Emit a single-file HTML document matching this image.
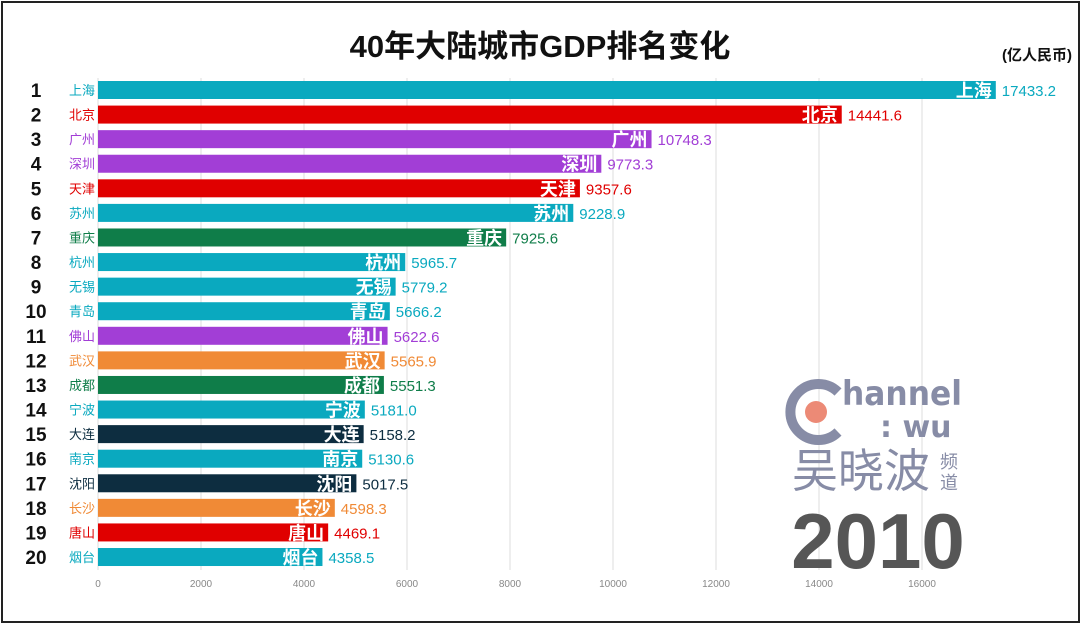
<!DOCTYPE html>
<html><head><meta charset="utf-8"><style>
body{margin:0;width:1080px;height:624px;overflow:hidden;background:#fff;font-family:"Liberation Sans","Noto Sans CJK SC",sans-serif}
#frame{position:absolute;left:1px;top:1px;width:1075px;height:618px;border:2px solid #222;box-sizing:content-box}
</style></head><body>
<div id="frame"></div>
<svg id="c" width="1080" height="624" style="position:absolute;left:0;top:0">
<text x="540" y="57" text-anchor="middle" font-size="31" font-weight="bold" fill="#111" font-family="Liberation Sans,Noto Sans CJK SC,sans-serif">40年大陆城市GDP排名变化</text>
<text x="1072" y="60" text-anchor="end" font-size="15" font-weight="bold" fill="#111" font-family="Liberation Sans,Noto Sans CJK SC,sans-serif">(亿人民币)</text>
<g id="grid"></g><g id="bars"></g>
<g>
<path d="M838 392 A28 28 0 1 0 838 432" fill="none" stroke="#878ca6" stroke-width="10"/>
<circle cx="816" cy="412" r="11" fill="#ec8a76"/>
<text x="842" y="405" font-size="34" font-weight="bold" fill="#878ca6" font-family="DejaVu Sans,sans-serif" textLength="120" lengthAdjust="spacingAndGlyphs">hannel</text>
<text x="880" y="437" font-size="30" font-weight="bold" fill="#878ca6" font-family="DejaVu Sans,sans-serif">: wu</text>
<text x="792" y="487" font-size="46" fill="#878ca6" font-family="Noto Sans CJK SC,sans-serif">吴晓波</text>
<text x="940" y="468" font-size="18" fill="#878ca6" font-family="Noto Sans CJK SC,sans-serif">频</text>
<text x="940" y="489" font-size="18" fill="#878ca6" font-family="Noto Sans CJK SC,sans-serif">道</text>
</g>
<text x="878" y="568" text-anchor="middle" font-size="78" font-weight="bold" fill="#565656">2010</text>
</svg>
<script>
const cities=["上海","北京","广州","深圳","天津","苏州","重庆","杭州","无锡","青岛","佛山","武汉","成都","宁波","大连","南京","沈阳","长沙","唐山","烟台"];
const values=[17433.2,14441.6,10748.3,9773.3,9357.6,9228.9,7925.6,5965.7,5779.2,5666.2,5622.6,5565.9,5551.3,5181.0,5158.2,5130.6,5017.5,4598.3,4469.1,4358.5];
const colorKeys=["t","r","p","p","r","t","g","t","t","t","p","o","g","t","n","t","n","o","r","t"];
const ticks=[0,2000,4000,6000,8000,10000,12000,14000,16000];
const pal={t:"#0aa9bf",r:"#e00000",p:"#a23ed6",g:"#0f7d49",o:"#f08a36",n:"#0d2d40"};
const NS="http://www.w3.org/2000/svg";
const x=v=>98+v*0.0515;
const y=i=>90+i*24.58;
function mk(t,a,p){const e=document.createElementNS(NS,t);for(const k in a)e.setAttribute(k,a[k]);p.appendChild(e);return e;}
const G=document.getElementById("grid"),B=document.getElementById("bars");
ticks.forEach(t=>{
 const l=mk("line",{x1:x(t),x2:x(t),y1:78,y2:570,stroke:"#ddd","stroke-width":1},G);
 
 
 const tx=mk("text",{x:x(t),y:587,"text-anchor":"middle","font-size":10,fill:"#888"},G);
 tx.textContent=t;
 
 
});
cities.forEach((c,i)=>{
 const col=pal[colorKeys[i]],yc=y(i);
 const r=mk("text",{x:36,y:yc+7,"text-anchor":"middle","font-size":19,"font-weight":"bold",fill:"#111"},B);
 r.textContent=i+1;
 
 
 const n=mk("text",{x:95,y:yc+5,"text-anchor":"end","font-size":13,fill:col,"font-family":"Noto Sans CJK SC,sans-serif"},B);
 n.textContent=c;
 
 
 const b=mk("rect",{x:x(0),y:yc-9,width:x(values[i])-x(0),height:18,fill:col},B);
 
 
 const il=mk("text",{x:x(values[i])-4,y:yc+7,"text-anchor":"end","font-size":18,"font-weight":"bold",fill:"#fff","font-family":"Noto Sans CJK SC,sans-serif"},B);
 il.textContent=c;
 
 
 const v=mk("text",{x:x(values[i])+6,y:yc+6,"font-size":15,fill:col,"font-family":"Liberation Sans,sans-serif"},B);
 v.textContent=values[i].toFixed(1);
 
 
});
</script>
</body></html>
